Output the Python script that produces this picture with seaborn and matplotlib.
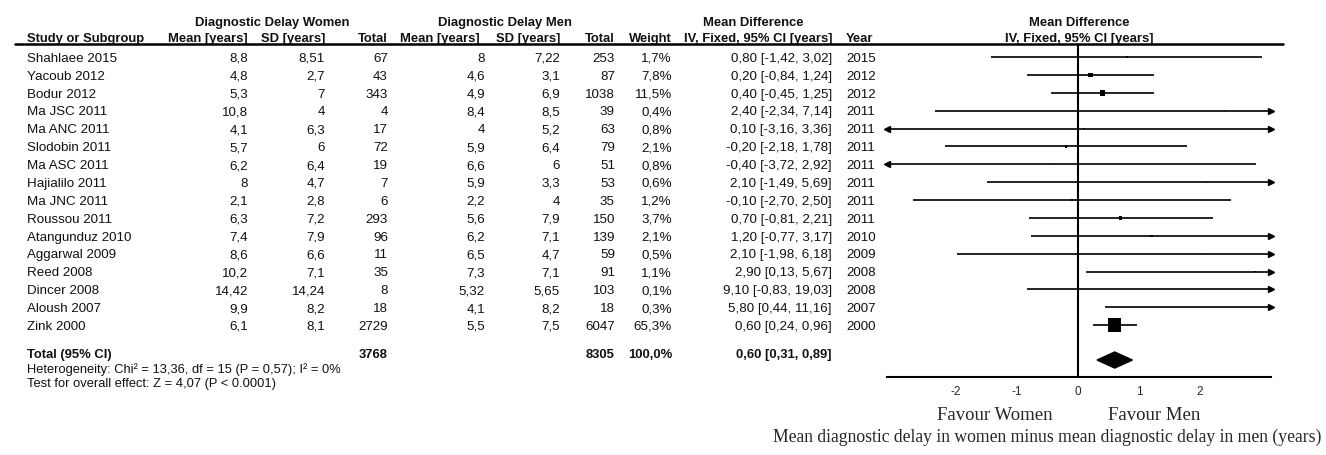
import numpy as np
import matplotlib
matplotlib.use("Agg")
import matplotlib.pyplot as plt
import seaborn as sns
from matplotlib.transforms import blended_transform_factory, offset_copy
from matplotlib.lines import Line2D
from matplotlib.patches import Polygon

# data
studies = ["Shahlaee 2015", "Yacoub 2012", "Bodur 2012", "Ma JSC 2011", "Ma ANC 2011",
           "Slodobin 2011", "Ma ASC 2011", "Hajialilo 2011", "Ma JNC 2011", "Roussou 2011",
           "Atangunduz 2010", "Aggarwal 2009", "Reed 2008", "Dincer 2008", "Aloush 2007",
           "Zink 2000"]
women_mean = [8.8, 4.8, 5.3, 10.8, 4.1, 5.7, 6.2, 8, 2.1, 6.3, 7.4, 8.6, 10.2, 14.42, 9.9, 6.1]
women_sd = [8.51, 2.7, 7, 4, 6.3, 6, 6.4, 4.7, 2.8, 7.2, 7.9, 6.6, 7.1, 14.24, 8.2, 8.1]
women_n = [67, 43, 343, 4, 17, 72, 19, 7, 6, 293, 96, 11, 35, 8, 18, 2729]
men_mean = [8, 4.6, 4.9, 8.4, 4, 5.9, 6.6, 5.9, 2.2, 5.6, 6.2, 6.5, 7.3, 5.32, 4.1, 5.5]
men_sd = [7.22, 3.1, 6.9, 8.5, 5.2, 6.4, 6, 3.3, 4, 7.9, 7.1, 4.7, 7.1, 5.65, 8.2, 7.5]
men_n = [253, 87, 1038, 39, 63, 79, 51, 53, 35, 150, 139, 59, 91, 103, 18, 6047]
weight = [1.7, 7.8, 11.5, 0.4, 0.8, 2.1, 0.8, 0.6, 1.2, 3.7, 2.1, 0.5, 1.1, 0.1, 0.3, 65.3]
md = [0.80, 0.20, 0.40, 2.40, 0.10, -0.20, -0.40, 2.10, -0.10, 0.70, 1.20, 2.10, 2.90, 9.10, 5.80, 0.60]
ci_lo = [-1.42, -0.84, -0.45, -2.34, -3.16, -2.18, -3.72, -1.49, -2.70, -0.81, -0.77, -1.98, 0.13, -0.83, 0.44, 0.24]
ci_hi = [3.02, 1.24, 1.25, 7.14, 3.36, 1.78, 2.92, 5.69, 2.50, 2.21, 3.17, 6.18, 5.67, 19.03, 11.16, 0.96]
years = [2015, 2012, 2012, 2011, 2011, 2011, 2011, 2011, 2011, 2011, 2010, 2009, 2008, 2008, 2007, 2000]
total_women = 3768
total_men = 8305
total_md, total_lo, total_hi = 0.60, 0.31, 0.89
ticks = [-2, -1, 0, 1, 2]

sns.set_theme(style="white")
plt.rcParams['font.family'] = ['Liberation Sans', 'DejaVu Sans']

W, H = 1326, 455
fig = plt.figure(figsize=(W / 100, H / 100), dpi=100)
ax = fig.add_axes([887 / W, 1 - 377 / H, (1271 - 887) / W, (377 - 44) / H])
XMIN, XMAX = -3.13, 3.16
ax.set_xlim(XMIN, XMAX)
ax.set_ylim(17.9, -0.73)

rows = np.arange(len(studies))
total_row = 16.56
diamond_row = 16.95

def fmt(v):
    return str(v).replace(".", ",")

def fmt2(v):
    return ("%.2f" % v).replace(".", ",")

# confidence intervals, with arrows where they leave the axis
for i in rows:
    lo, hi = ci_lo[i], ci_hi[i]
    ax.plot([max(lo, XMIN), min(hi, XMAX)], [i, i], color="black", lw=1.2,
            solid_capstyle="butt", zorder=2)
    if hi > XMAX:
        ax.plot(XMAX, i, marker=">", color="black", ms=5, clip_on=False, zorder=3)
    if lo < XMIN:
        ax.plot(XMIN, i, marker="<", color="black", ms=5, clip_on=False, zorder=3)

sns.scatterplot(x=md, y=rows, size=weight, sizes=(0, 95), size_norm=(0, 65.3),
                marker="s", color="black", edgecolor="black", linewidth=0,
                legend=False, ax=ax, zorder=4)

# pooled diamond
ax.add_patch(Polygon([[total_lo, diamond_row], [total_md, diamond_row - 0.45],
                      [total_hi, diamond_row], [total_md, diamond_row + 0.45]],
                     closed=True, color="black", zorder=4))

ax.axvline(0, color="black", lw=1.5, zorder=1)

for s in ["top", "right", "left"]:
    ax.spines[s].set_visible(False)
ax.spines["bottom"].set_color("black")
ax.spines["bottom"].set_linewidth(1.5)
ax.set_yticks([])
ax.set_xticks(ticks)
ax.set_xticklabels([str(t) for t in ticks], fontsize=8.5)
ax.tick_params(axis="x", direction="inout", length=9, width=1.2, color="black", pad=2)
ax.set_facecolor("none")

# header rule
fig.add_artist(Line2D([15 / W, 1283 / W], [1 - 44 / H, 1 - 44 / H], color="black", lw=1.8))

tr = blended_transform_factory(fig.transFigure, ax.transData)

def put(xpx, y, s, ha="right", bold=False, fs=9.6):
    # baseline placed a fixed distance below the row centre so every column lines up
    t = offset_copy(tr, fig=fig, y=-0.36 * fs, units="points")
    ax.text(xpx / W, y, s, transform=t, ha=ha, va="baseline", fontsize=fs,
            fontweight="bold" if bold else "normal", clip_on=False, color="#111111")

# column headers
hy1, hy2 = -2.01, -1.12
hfs = 9.4
put(272, hy1, "Diagnostic Delay Women", ha="center", bold=True, fs=hfs)
put(505, hy1, "Diagnostic Delay Men", ha="center", bold=True, fs=hfs)
put(753, hy1, "Mean Difference", ha="center", bold=True, fs=hfs)
put(1079, hy1, "Mean Difference", ha="center", bold=True, fs=hfs)
put(27, hy2, "Study or Subgroup", ha="left", bold=True, fs=hfs)
put(248, hy2, "Mean [years]", bold=True, fs=hfs)
put(325, hy2, "SD [years]", bold=True, fs=hfs)
put(388, hy2, "Total", bold=True, fs=hfs)
put(480, hy2, "Mean [years]", bold=True, fs=hfs)
put(560, hy2, "SD [years]", bold=True, fs=hfs)
put(615, hy2, "Total", bold=True, fs=hfs)
put(672, hy2, "Weight", bold=True, fs=hfs)
put(832, hy2, "IV, Fixed, 95% CI [years]", bold=True, fs=hfs)
put(846, hy2, "Year", ha="left", bold=True, fs=hfs)
put(1079, hy2, "IV, Fixed, 95% CI [years]", ha="center", bold=True, fs=hfs)

for i in rows:
    put(27, i, studies[i], ha="left")
    put(248, i, fmt(women_mean[i]))
    put(325, i, fmt(women_sd[i]))
    put(388, i, str(women_n[i]))
    put(485, i, fmt(men_mean[i]))
    put(560, i, fmt(men_sd[i]))
    put(615, i, str(men_n[i]))
    put(672, i, ("%.1f%%" % weight[i]).replace(".", ","))
    put(832, i, "%s [%s, %s]" % (fmt2(md[i]), fmt2(ci_lo[i]), fmt2(ci_hi[i])))
    put(846, i, str(years[i]), ha="left")

put(27, total_row, "Total (95% CI)", ha="left", bold=True, fs=hfs)
put(388, total_row, str(total_women), bold=True, fs=hfs)
put(615, total_row, str(total_men), bold=True, fs=hfs)
put(672, total_row, "100,0%", bold=True, fs=hfs)
put(832, total_row, "%s [%s, %s]" % (fmt2(total_md), fmt2(total_lo), fmt2(total_hi)),
    bold=True, fs=hfs)

put(27, 17.4, "Heterogeneity: Chi\u00b2 = 13,36, df = 15 (P = 0,57); I\u00b2 = 0%", ha="left", fs=9.3)
put(27, 18.2, "Test for overall effect: Z = 4,07 (P < 0.0001)", ha="left", fs=9.3)

serif = ["Liberation Serif", "DejaVu Serif"]
fig.text(995 / W, 1 - 416 / H, "Favour Women", ha="center", va="center", fontsize=13.5, family=serif)
fig.text(1154 / W, 1 - 416 / H, "Favour Men", ha="center", va="center", fontsize=13.5, family=serif)
fig.text(1047 / W, 1 - 437 / H,
         "Mean diagnostic delay in women minus mean diagnostic delay in men (years)",
         ha="center", va="center", fontsize=12.7, family=serif)

fig.savefig("out.png", dpi=100, facecolor="white")
